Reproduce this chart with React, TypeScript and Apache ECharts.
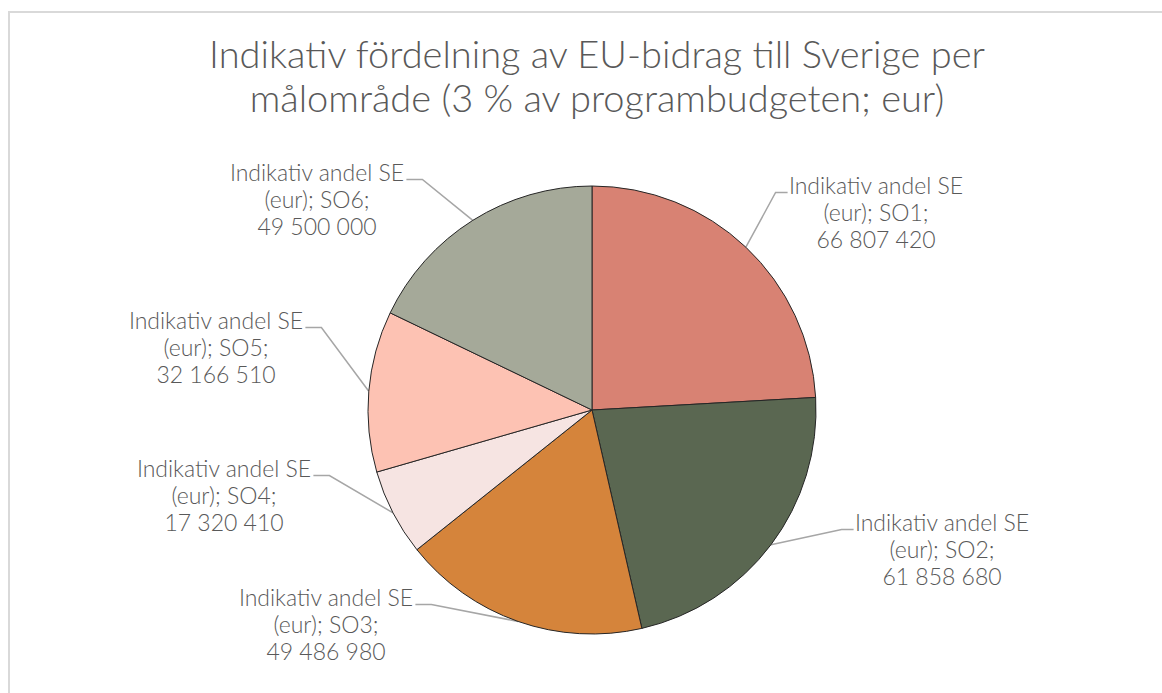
import React, { useEffect, useRef } from "react";
import * as echarts from "echarts";

const categories = ["SO1", "SO2", "SO3", "SO4", "SO5", "SO6"];
const values = [66807420, 61858680, 49486980, 17320410, 32166510, 49500000];
const colors = ["#d88273", "#5a6751", "#d5843b", "#f6e4e2", "#fdc2b3", "#a5a999"];
const seriesName = "Indikativ andel SE (eur)";
const titleText = "Indikativ fördelning av EU-bidrag till Sverige per\nmålområde (3 % av programbudgeten; eur)";

const CX = 592;
const CY = 410;
const R = 224;
const LABEL_POS = [
  [876, 212],
  [942, 549],
  [326, 624],
  [224, 495],
  [216, 347],
  [317, 199],
];

const fmt = (v: number) => String(v).replace(/\B(?=(\d{3})+(?!\d))/g, " ");

export default function App() {
  const ref = useRef<HTMLDivElement>(null);
  useEffect(() => {
    if (!ref.current) return;
    const chart = echarts.init(ref.current, undefined, { renderer: "svg" });
    const total = values.reduce((a, b) => a + b, 0);
    let acc = 0;
    const mids = values.map((v) => {
      const span = (v / total) * 360;
      const m = acc + span / 2;
      acc += span;
      return m;
    });
    const font = "Lato, 'Open Sans', sans-serif";
    chart.setOption({
      animation: false,
      backgroundColor: "#ffffff",
      title: {
        text: titleText,
        left: 592,
        top: 26,
        textAlign: "center",
        textStyle: {
          fontFamily: font,
          fontSize: 38,
          fontWeight: 300,
          color: "#595959",
          lineHeight: 44,
        },
      },
      graphic: [
        {
          type: "rect",
          z: -10,
          shape: { x: 9, y: 12, width: 1400, height: 1000 },
          style: { fill: "none", stroke: "#d9d9d9", lineWidth: 2 },
        },
      ],
      series: [
        {
          type: "pie",
          name: seriesName,
          center: [CX, CY],
          radius: R,
          startAngle: 90,
          clockwise: true,
          avoidLabelOverlap: false,
          itemStyle: { borderColor: "#262626", borderWidth: 1 },
          label: {
            show: true,
            position: "outside",
            fontFamily: font,
            fontSize: 23,
            fontWeight: 300,
            color: "#595959",
            lineHeight: 27,
            align: "center",
            formatter: (p: any) => `Indikativ andel SE\n(eur); ${p.name};\n${fmt(p.value)}`,
          },
          labelLine: {
            show: true,
            smooth: false,
            lineStyle: { color: "#a6a6a6", width: 1.5 },
          },
          labelLayout: (params: any) => {
            const i = params.dataIndex;
            const [lx, ly] = LABEL_POS[i];
            const w = params.labelRect.width;
            const h = params.labelRect.height;
            const rad = (mids[i] * Math.PI) / 180;
            const ax = CX + R * Math.sin(rad);
            const ay = CY - R * Math.cos(rad);
            const right = ax > CX;
            const yStub = ly - h / 2 + 21;
            const endX = right ? lx - w / 2 - 1 : lx + w / 2 + 2;
            const elbowX = right ? endX - 12 : endX + 16;
            return {
              x: lx,
              y: ly,
              align: "center",
              verticalAlign: "middle",
              labelLinePoints: [
                [ax, ay],
                [elbowX, yStub],
                [endX, yStub],
              ],
            };
          },
          data: categories.map((c, i) => ({
            name: c,
            value: values[i],
            itemStyle: { color: colors[i] },
          })),
        },
      ],
    });
    return () => chart.dispose();
  }, []);
  return (
    <div
      ref={ref}
      style={{ position: "absolute", left: 0, top: 0, width: 1162, height: 693 }}
    />
  );
}
